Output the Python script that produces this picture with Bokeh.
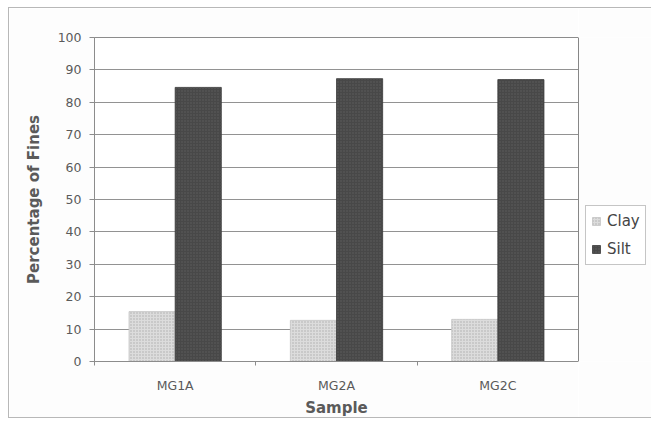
from bokeh.plotting import figure
from bokeh.layouts import row
from bokeh.models import FixedTicker, Legend, LegendItem, Range1d, ColumnDataSource
from bokeh.embed import file_html
from bokeh.resources import INLINE
import numpy as np

# Fines composition per sample (percent)
samples = ["MG1A", "MG2A", "MG2C"]
clay = [15.4, 12.7, 13.0]
silt = [84.6, 87.3, 87.0]
y_ticks = [0, 10, 20, 30, 40, 50, 60, 70, 80, 90, 100]

FONT = "DejaVu Sans"
BAR_W = 0.286
AXIS_GREY = "#8c8c8c"
TEXT_GREY = "#5a5a5a"
PANEL_BG = "#fdfdfd"
EDGE = "1px solid #b8b8b8"

CLAY_STYLE = dict(fill_color="#dcdcdc", line_color="#c4c4c4", line_width=0.8,
                  hatch_pattern="dot", hatch_color="#ababab", hatch_scale=3,
                  hatch_weight=0.8)
SILT_STYLE = dict(fill_color="#484848", line_color="#3c3c3c", line_width=0.8,
                  hatch_pattern="dot", hatch_color="#5f5f5f", hatch_scale=3,
                  hatch_weight=0.8)

centers = np.arange(len(samples)) + 0.5
src = ColumnDataSource(dict(
    x_clay=centers - BAR_W / 2,
    x_silt=centers + BAR_W / 2,
    clay=clay,
    silt=silt,
))

# ---- main bar chart -------------------------------------------------------
p = figure(width=570, height=411, output_backend="svg", toolbar_location=None,
           x_range=Range1d(0, len(samples)), y_range=Range1d(0, 100),
           min_border_left=85, min_border_right=1,
           min_border_top=29, min_border_bottom=57)
p.margin = (7, 0, 0, 8)
p.styles = {"border-left": EDGE, "border-top": EDGE, "border-bottom": EDGE}
p.background_fill_color = "white"
p.border_fill_color = PANEL_BG
p.outline_line_color = AXIS_GREY
p.outline_line_width = 1

p.vbar(x="x_clay", top="clay", width=BAR_W, source=src, **CLAY_STYLE)
p.vbar(x="x_silt", top="silt", width=BAR_W, source=src, **SILT_STYLE)

# x axis: labels at category centres, tick marks on category boundaries
p.xaxis.ticker = FixedTicker(ticks=list(centers),
                             minor_ticks=list(range(len(samples) + 1)))
p.xaxis.major_label_overrides = {float(c): s for c, s in zip(centers, samples)}
p.xaxis.major_tick_line_color = None
p.xaxis.minor_tick_line_color = AXIS_GREY
p.xaxis.minor_tick_out = 4
p.xaxis.minor_tick_in = 0
p.xaxis.axis_line_color = AXIS_GREY
p.xaxis.axis_label = "Sample"
p.xaxis.major_label_standoff = 10

p.yaxis.ticker = FixedTicker(ticks=y_ticks)
p.yaxis.minor_tick_line_color = None
p.yaxis.major_tick_out = 5
p.yaxis.major_tick_in = 0
p.yaxis.major_tick_line_color = AXIS_GREY
p.yaxis.axis_line_color = AXIS_GREY
p.yaxis.axis_label = "Percentage of Fines"
p.yaxis.major_label_standoff = 8

for ax in (p.xaxis, p.yaxis):
    ax.major_label_text_font = FONT
    ax.major_label_text_font_size = "12.5px"
    ax.major_label_text_color = TEXT_GREY
    ax.axis_label_text_font = FONT
    ax.axis_label_text_font_size = "15px"
    ax.axis_label_text_font_style = "bold"
    ax.axis_label_text_color = TEXT_GREY
p.xaxis.axis_label_standoff = 3
p.yaxis.axis_label_standoff = 12

p.xgrid.grid_line_color = None
p.ygrid.grid_line_color = "#929292"
p.ygrid.grid_line_width = 1

# ---- legend strip to the right of the chart -------------------------------
lg = figure(width=73, height=411, output_backend="svg", toolbar_location=None,
            x_range=Range1d(0, 1), y_range=Range1d(0, 1), min_border=0)
lg.margin = (7, 0, 0, 0)
lg.styles = {"border-top": EDGE, "border-bottom": EDGE}
lg.axis.visible = False
lg.grid.visible = False
lg.outline_line_color = None
lg.background_fill_color = PANEL_BG
lg.border_fill_color = PANEL_BG

# key glyphs: one bar each, parked outside the strip's visible range
clay_key = lg.vbar(x=[-5], top=[1], width=BAR_W, **CLAY_STYLE)
silt_key = lg.vbar(x=[-5], top=[1], width=BAR_W, **SILT_STYLE)

legend = Legend(items=[LegendItem(label="Clay", renderers=[clay_key]),
                       LegendItem(label="Silt", renderers=[silt_key])],
                location=(7, 96), orientation="vertical",
                label_text_font=FONT, label_text_font_size="15px",
                label_text_color="#444444", label_height=20,
                glyph_width=10, glyph_height=10, label_standoff=6,
                spacing=8, padding=5, margin=0,
                border_line_color=AXIS_GREY, background_fill_color="white")
lg.add_layout(legend, "center")

layout = row(p, lg, spacing=0)
open("out.html", "w").write(file_html(layout, INLINE))
